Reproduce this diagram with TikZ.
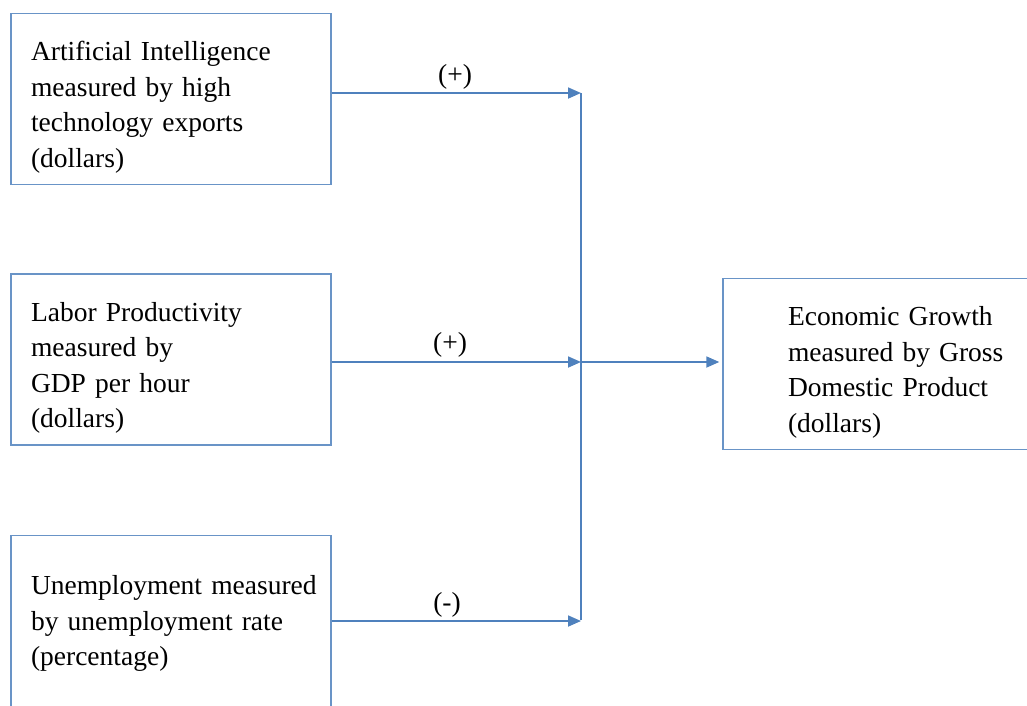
\documentclass[tikz,border=0pt]{standalone}
\usepackage{fontspec}
\setmainfont{Liberation Serif}
\usetikzlibrary{arrows.meta,positioning}
\definecolor{linkblue}{RGB}{79,129,189}
\tikzset{
  modelfig/.style={x=1pt,y=-1pt,>={Triangle[length=13pt,width=11pt]},
    every node/.style={font=\fontsize{27.5}{35.5}\selectfont}},
  varbox/.style={draw=linkblue!85,line width=1.4pt,align=left,
    text width=280pt,inner xsep=20pt,inner ysep=0pt,minimum height=171pt,
    execute at begin node={\rule{0pt}{#1}}},
  varbox/.default=36pt,
  outbox/.style={varbox,text width=245pt,inner xsep=65pt},
  link/.style={draw=linkblue,line width=1.8pt},
  signlabel/.style={inner sep=1pt},
}

\begin{document}
\begin{tikzpicture}[modelfig]
    \useasboundingbox (0,0) rectangle (1027,705);

    \node[varbox] (ai) at (171,99)
      {Artificial Intelligence\\measured by high\\technology exports\\(dollars)};
    \node[varbox] (labor) at (171,359.5)
      {Labor Productivity\\measured by\\GDP per hour\\(dollars)};
    \node[varbox=24pt] (unemp) at (171,621)
      {\mbox{Unemployment measured}\\by unemployment rate\\(percentage)};
    \node[outbox] (gdp) at (910.5,364)
      {Economic Growth\\measured by Gross\\Domestic Product\\(dollars)};

    % joining line
    \coordinate (j1) at (581,93);
    \coordinate (j2) at (581,362);
    \coordinate (j3) at (581,621);
    \draw[link] (j1) -- ([yshift=1pt]j3);

    \draw[link,->] (j1 -| ai.east) -- (j1);
    \draw[link,->] (j2 -| labor.east) -- (j2);
    \draw[link,->] (j3 -| unemp.east) -- (j3);
    \draw[link,->,shorten >=3pt] (j2) -- (j2 -| gdp.west);

    \node[signlabel] (s1) at (455,77) {(+)};
    \node[signlabel] (s2) at (450,345) {(+)};
    \node[signlabel] (s3) at (447,605) {(-)};
  \end{tikzpicture}
\end{document}
